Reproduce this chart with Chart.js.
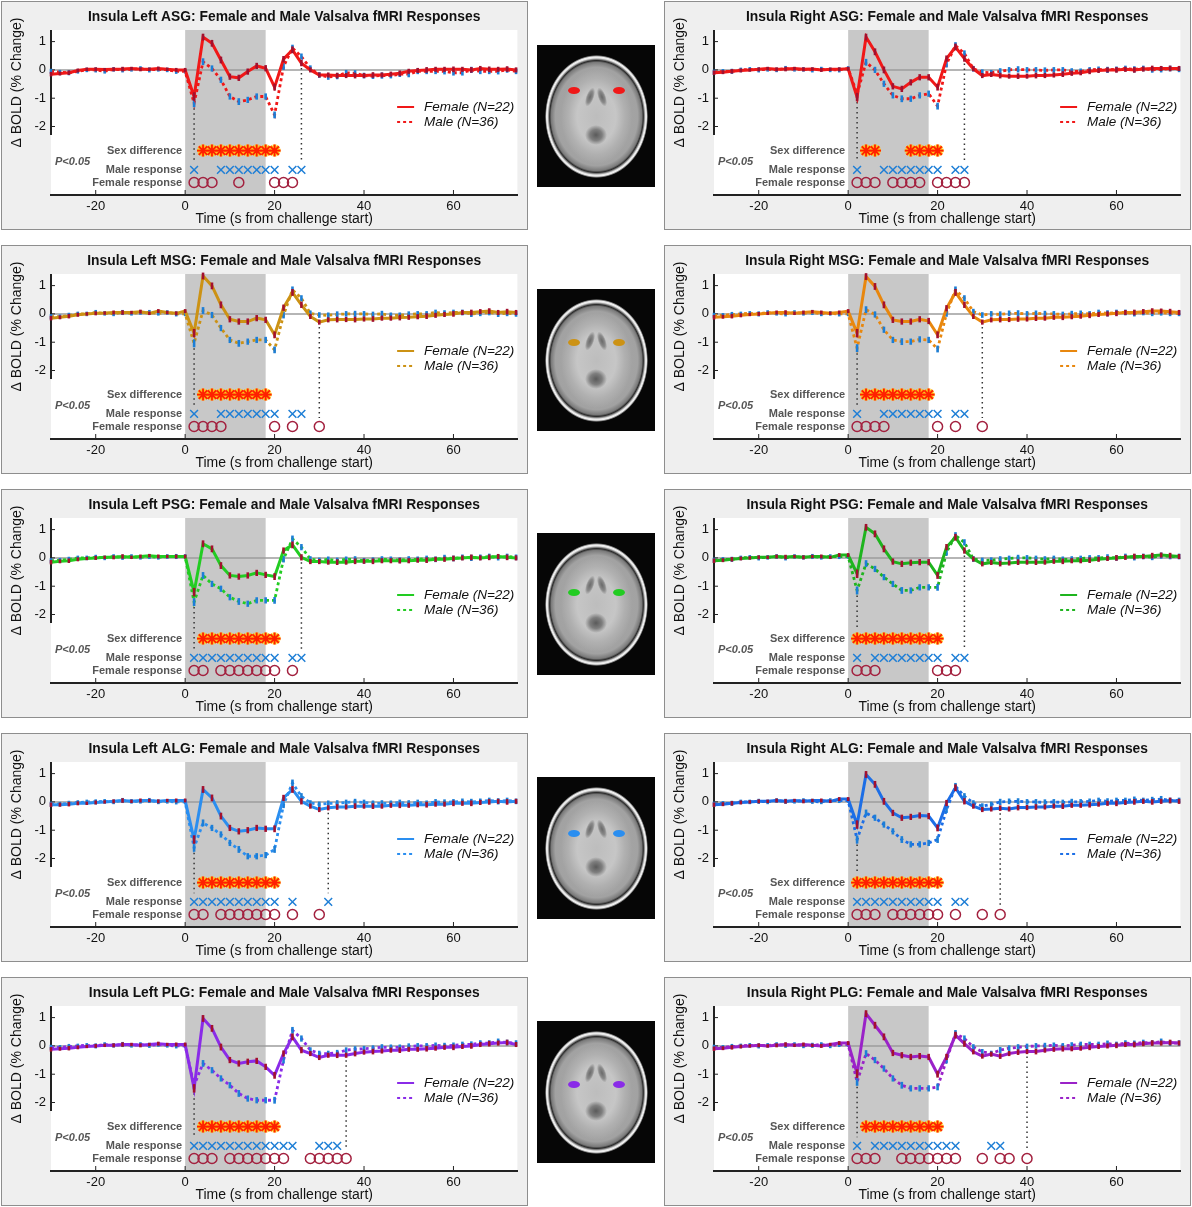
<!DOCTYPE html>
<html>
<head>
<meta charset="utf-8">
<script src="https://cdn.jsdelivr.net/npm/chart.js@4.4.0/dist/chart.umd.min.js"></script>
<style>
  body { margin: 0; width: 1192px; height: 1207px; background: #fff; position: relative; overflow: hidden; font-family: "Liberation Sans", Arial, sans-serif; }
  .panel { position: absolute; width: 527px; height: 229px; background: #efefef; border: 1px solid #8e8e8e; box-sizing: border-box; }
  .panel canvas { display: block; }
  .brain { position: absolute; left: 537px; width: 118px; height: 142px; background: #060606; overflow: hidden; }
  .brain div { position: absolute; border-radius: 50%; }
  .skull { left: 8px; top: 10px; width: 103px; height: 123px; background: radial-gradient(ellipse closest-side at 50% 50%, #a9a9a9 0%, #a2a2a2 80%, #7a7a7a 88%, #2a2a2a 91%, #e6e6e6 95%, #f2f2f2 97%, #101010 100%); }
  .wm { left: 24px; top: 24px; width: 71px; height: 95px; background: radial-gradient(ellipse closest-side at 50% 50%, #bdbdbd 0%, #c6c6c6 55%, #b0b0b0 80%, rgba(168,168,168,0) 100%); }
  .hornL { left: 49px; top: 42px; width: 8px; height: 20px; background: radial-gradient(ellipse closest-side, #6a6a6a 0%, #8a8a8a 60%, rgba(180,180,180,0) 100%); transform: rotate(20deg); }
  .hornR { left: 61px; top: 42px; width: 8px; height: 20px; background: radial-gradient(ellipse closest-side, #6a6a6a 0%, #8a8a8a 60%, rgba(180,180,180,0) 100%); transform: rotate(-20deg); }
  .mid { left: 48px; top: 80px; width: 22px; height: 20px; background: radial-gradient(ellipse closest-side, #5a5a5a 0%, #7e7e7e 55%, rgba(180,180,180,0) 100%); }
  .spot { width: 12px; height: 7px; }
</style>
</head>
<body>
<script>
// time axis (s from challenge start)
const times = [-30,-28,-26,-24,-22,-20,-18,-16,-14,-12,-10,-8,-6,-4,-2,0,2,4,6,8,10,12,14,16,18,20,22,24,26,28,30,32,34,36,38,40,42,44,46,48,50,52,54,56,58,60,62,64,66,68,70,72,74];
const xTicks = [-20, 0, 20, 40, 60];
const yTicks = [-2, -1, 0, 1];
const challenge = [0, 18];

// standard errors (shared)
const errF = [0.08,0.07,0.08,0.07,0.06,0.07,0.06,0.07,0.08,0.06,0.07,0.06,0.07,0.06,0.07, 0.07,0.15,0.12,0.12,0.12,0.11,0.11,0.11,0.11,0.11,0.12,0.11,0.12,0.11,0.09,0.09, 0.09,0.1,0.09,0.1,0.09,0.1,0.09,0.09,0.1,0.09,0.09,0.1,0.09,0.09,0.1,0.09,0.1,0.09,0.1,0.09,0.1,0.09];
const errM = [0.09,0.08,0.09,0.08,0.08,0.09,0.08,0.08,0.09,0.08,0.08,0.09,0.08,0.08,0.09, 0.08,0.14,0.12,0.11,0.11,0.11,0.12,0.11,0.11,0.11,0.12,0.12,0.12,0.11,0.1,0.1, 0.1,0.11,0.1,0.11,0.1,0.1,0.11,0.1,0.1,0.11,0.1,0.1,0.1,0.11,0.1,0.1,0.11,0.1,0.1,0.11,0.1,0.1];

// ASG
const lAsgF = [-0.15,-0.13,-0.1,-0.02,0.02,0.02,0.01,0.02,0.03,0.05,0.02,0.02,0.05,0.02,0.0, 0.0,-0.94,1.16,0.94,0.35,-0.24,-0.28,-0.06,0.14,0.06,-0.61,0.38,0.71,0.24,0.0,-0.18, -0.18,-0.2,-0.2,-0.2,-0.2,-0.18,-0.18,-0.15,-0.12,-0.05,-0.02,0.0,0.02,0.02,0.02,0.02,0.0,0.05,0.02,0.02,0.03,0.0];
const lAsgM = [-0.05,-0.08,-0.1,-0.05,0.0,0.0,-0.05,0.02,0.0,0.02,0.05,0.0,0.02,0.0,-0.05, -0.05,-1.18,0.29,0.05,-0.35,-0.94,-1.12,-1.06,-0.94,-0.94,-1.59,0.12,0.77,0.47,0.06,-0.18, -0.25,-0.22,-0.1,-0.12,-0.2,-0.22,-0.2,-0.2,-0.15,-0.15,-0.05,-0.05,-0.05,-0.05,-0.1,-0.1,0.0,-0.05,-0.05,-0.05,0.0,-0.05];
const rAsgF = [-0.1,-0.08,-0.05,-0.02,0.0,0.02,0.05,0.02,0.03,0.05,0.02,0.03,0.0,0.02,0.02, 0.04,-0.96,1.16,0.64,0.0,-0.58,-0.67,-0.44,-0.26,-0.26,-0.61,0.4,0.81,0.4,0.04,-0.2, -0.16,-0.2,-0.22,-0.22,-0.22,-0.2,-0.2,-0.18,-0.15,-0.12,-0.1,-0.05,-0.02,0.0,0.0,0.02,0.0,0.03,0.05,0.05,0.05,0.05];
const rAsgM = [-0.08,-0.05,-0.05,0.0,0.02,0.0,0.02,0.0,0.05,0.02,0.02,0.0,0.03,0.0,0.0, 0.05,-0.85,0.27,0.0,-0.49,-0.9,-1.02,-1.02,-0.9,-0.84,-1.28,0.21,0.86,0.58,0.04,-0.08, -0.1,-0.05,0.0,0.02,0.0,0.0,-0.02,0.0,0.0,-0.05,-0.05,0.0,0.02,0.0,0.02,0.05,0.02,0.05,0.0,0.02,0.05,0.02];
// MSG
const lMsgF = [-0.15,-0.12,-0.08,-0.03,0.0,0.02,0.03,0.05,0.05,0.05,0.08,0.02,0.1,0.05,0.02, 0.1,-0.68,1.34,0.99,0.32,-0.19,-0.27,-0.27,-0.15,-0.21,-0.74,0.22,0.76,0.32,-0.09,-0.29, -0.21,-0.2,-0.2,-0.2,-0.18,-0.18,-0.15,-0.15,-0.13,-0.12,-0.1,-0.08,-0.05,-0.02,0.0,0.05,0.05,0.08,0.1,0.05,0.08,0.05];
const lMsgM = [-0.1,-0.1,-0.05,0.0,0.0,0.05,0.02,0.0,0.05,0.02,0.05,0.05,0.02,0.05,0.0, 0.0,-1.04,0.12,-0.04,-0.5,-0.92,-1.04,-0.98,-0.92,-0.92,-1.27,-0.04,0.85,0.55,0.02,-0.04, -0.05,-0.02,0.0,0.0,0.0,-0.02,0.0,-0.05,-0.05,-0.02,0.0,0.0,0.05,0.02,0.05,0.05,0.0,0.02,0.05,0.0,0.02,0.0];
const rMsgF = [-0.12,-0.1,-0.08,-0.05,-0.02,0.0,0.02,0.05,0.05,0.02,0.05,0.08,0.05,0.02,0.05, 0.1,-0.68,1.32,0.97,0.32,-0.21,-0.27,-0.27,-0.19,-0.25,-0.74,0.2,0.76,0.32,-0.09,-0.29, -0.21,-0.2,-0.2,-0.18,-0.18,-0.15,-0.15,-0.12,-0.12,-0.1,-0.08,-0.05,-0.02,0.0,0.02,0.05,0.05,0.08,0.1,0.1,0.08,0.05];
const rMsgM = [-0.05,-0.05,-0.02,0.0,0.02,0.0,0.05,0.02,0.0,0.05,0.02,0.05,0.0,0.02,0.0, 0.0,-1.21,0.15,-0.02,-0.56,-0.92,-0.98,-0.98,-0.9,-0.92,-1.24,0.02,0.85,0.55,0.08,-0.04, 0.0,-0.02,0.02,0.02,0.0,0.02,0.0,0.0,-0.02,0.0,0.02,0.0,0.05,0.02,0.05,0.05,0.02,0.05,0.02,0.05,0.02,0.02];
// PSG
const lPsgF = [-0.15,-0.12,-0.1,-0.05,-0.02,0.0,0.02,0.02,0.05,0.02,0.05,0.08,0.05,0.05,0.05, 0.05,-1.21,0.5,0.32,-0.27,-0.62,-0.66,-0.62,-0.53,-0.6,-0.66,0.26,0.46,0.02,-0.13,-0.13, -0.15,-0.15,-0.15,-0.12,-0.12,-0.12,-0.1,-0.1,-0.1,-0.1,-0.08,-0.08,-0.05,-0.05,-0.02,0.0,0.02,0.0,0.02,0.05,0.02,0.0];
const lPsgM = [-0.1,-0.08,-0.05,0.0,0.0,0.02,0.0,0.05,0.02,0.05,0.02,0.05,0.02,0.05,0.05, 0.05,-1.56,-0.62,-0.92,-1.09,-1.39,-1.54,-1.62,-1.5,-1.5,-1.5,-0.04,0.67,0.38,-0.04,-0.09, -0.05,-0.1,-0.05,-0.05,-0.1,-0.08,-0.05,-0.05,-0.08,-0.05,-0.05,-0.02,-0.05,0.0,-0.02,0.02,0.0,0.02,0.05,0.02,0.05,0.02];
const rPsgF = [-0.1,-0.08,-0.05,-0.02,0.0,0.02,0.02,0.05,0.03,0.05,0.02,0.05,0.05,0.02,0.1, 0.1,-0.56,1.08,0.85,0.32,-0.13,-0.21,-0.17,-0.15,-0.15,-0.62,0.38,0.73,0.26,-0.04,-0.21, -0.16,-0.2,-0.18,-0.15,-0.15,-0.15,-0.15,-0.12,-0.12,-0.1,-0.1,-0.08,-0.05,-0.02,0.0,0.02,0.05,0.05,0.08,0.1,0.08,0.05];
const rPsgM = [-0.08,-0.05,-0.05,0.0,0.02,0.0,0.02,0.05,0.0,0.05,0.02,0.05,0.02,0.05,0.05, 0.05,-1.15,-0.2,-0.39,-0.68,-0.92,-1.15,-1.15,-1.04,-1.04,-1.04,0.2,0.79,0.55,-0.04,-0.09, -0.08,-0.05,-0.02,0.0,0.0,-0.02,-0.05,-0.02,-0.05,-0.05,-0.02,0.0,0.0,0.02,0.0,0.05,0.02,0.05,0.02,0.08,0.05,0.05];
// ALG
const lAlgF = [-0.1,-0.1,-0.08,-0.05,-0.05,-0.02,0.0,0.02,0.05,0.02,0.05,0.05,0.02,0.05,0.05, 0.05,-1.33,0.44,0.14,-0.5,-0.92,-1.04,-1.0,-0.92,-0.95,-0.95,0.14,0.44,0.02,-0.15,-0.27, -0.21,-0.18,-0.18,-0.15,-0.15,-0.15,-0.15,-0.12,-0.12,-0.12,-0.1,-0.1,-0.08,-0.08,-0.05,-0.05,-0.05,-0.02,0.0,0.02,0.0,0.02];
const lAlgM = [-0.08,-0.08,-0.05,-0.02,0.0,0.0,0.02,0.0,0.05,0.02,0.02,0.05,0.0,0.02,0.0, 0.0,-1.62,-0.74,-0.92,-1.15,-1.45,-1.68,-1.92,-1.92,-1.88,-1.68,-0.1,0.67,0.2,-0.04,-0.09, -0.05,-0.05,-0.02,0.0,-0.02,-0.05,-0.05,-0.05,-0.02,-0.05,-0.02,-0.05,0.0,-0.02,0.0,0.02,0.0,0.02,0.05,0.02,0.05,0.02];
const rAlgF = [-0.1,-0.08,-0.05,-0.02,0.0,0.02,0.02,0.05,0.02,0.05,0.02,0.05,0.05,0.02,0.1, 0.1,-0.8,0.97,0.62,0.02,-0.39,-0.56,-0.53,-0.48,-0.5,-0.92,-0.04,0.5,0.02,-0.15,-0.27, -0.25,-0.22,-0.25,-0.2,-0.2,-0.18,-0.18,-0.15,-0.15,-0.12,-0.12,-0.1,-0.08,-0.05,-0.05,-0.02,0.0,0.02,0.0,0.02,0.05,0.02];
const rAlgM = [-0.08,-0.05,-0.05,0.0,0.0,0.02,0.0,0.05,0.02,0.02,0.05,0.02,0.0,0.05,0.05, 0.05,-1.33,-0.39,-0.56,-0.8,-1.04,-1.33,-1.5,-1.5,-1.45,-1.33,-0.27,0.55,0.2,-0.04,-0.15, -0.09,0.0,0.02,0.02,0.0,0.0,-0.02,0.0,-0.02,0.0,0.0,0.02,0.05,0.02,0.05,0.05,0.08,0.05,0.08,0.1,0.05,0.05];
// PLG
const lPlgF = [-0.12,-0.1,-0.08,-0.05,-0.02,0.0,0.02,0.02,0.05,0.05,0.02,0.05,0.08,0.05,0.05, 0.05,-1.5,0.97,0.62,-0.04,-0.5,-0.62,-0.56,-0.53,-0.74,-1.04,-0.27,0.32,-0.15,-0.27,-0.41, -0.33,-0.33,-0.33,-0.27,-0.22,-0.2,-0.18,-0.15,-0.15,-0.12,-0.12,-0.1,-0.08,-0.05,-0.05,-0.02,0.0,0.05,0.08,0.1,0.12,0.05];
const lPlgM = [-0.05,-0.05,-0.02,0.0,0.02,0.0,0.05,0.02,0.05,0.02,0.05,0.02,0.05,0.02,0.0, 0.0,-1.39,-0.62,-0.86,-1.15,-1.39,-1.68,-1.86,-1.92,-1.92,-1.92,-0.5,0.55,0.26,-0.15,-0.27, -0.27,-0.25,-0.15,-0.12,-0.1,-0.08,-0.05,-0.05,-0.05,-0.02,0.0,0.0,0.02,0.0,0.02,0.05,0.05,0.1,0.1,0.15,0.12,0.1];
const rPlgF = [-0.1,-0.08,-0.05,-0.02,0.0,0.02,0.0,0.02,0.05,0.02,0.05,0.02,0.0,0.05,0.1, 0.1,-0.98,1.14,0.73,0.32,-0.25,-0.33,-0.39,-0.36,-0.39,-1.0,-0.39,0.38,0.08,-0.21,-0.36, -0.29,-0.36,-0.27,-0.22,-0.2,-0.2,-0.15,-0.12,-0.1,-0.1,-0.08,-0.05,-0.02,0.0,0.02,0.05,0.05,0.08,0.1,0.1,0.12,0.1];
const rPlgM = [-0.05,-0.05,-0.02,0.0,0.02,0.0,0.02,0.05,0.02,0.05,0.0,0.02,0.05,0.0,0.05, 0.05,-1.27,-0.27,-0.5,-0.8,-1.15,-1.39,-1.5,-1.5,-1.5,-1.45,-0.5,0.44,0.26,-0.04,-0.21, -0.27,-0.15,-0.08,-0.05,-0.02,0.0,0.0,0.02,0.0,0.02,0.05,0.05,0.05,0.08,0.05,0.1,0.08,0.12,0.1,0.15,0.1,0.1];

// significance markers (time points, P<0.05)
const lAsgSex = [4,6,8,10,12,14,16,18,20], lAsgMale = [2,8,10,12,14,16,18,20,24,26], lAsgFem = [2,4,6,12,20,22,24], lAsgVl = [2,26];
const rAsgSex = [4,6,14,16,18,20], rAsgMale = [2,8,10,12,14,16,18,20,24,26], rAsgFem = [2,4,6,10,12,14,16,20,22,24,26], rAsgVl = [2,26];
const lMsgSex = [4,6,8,10,12,14,16,18], lMsgMale = [2,8,10,12,14,16,18,20,24,26], lMsgFem = [2,4,6,8,20,24,30], lMsgVl = [2,30];
const rMsgSex = [4,6,8,10,12,14,16,18], rMsgMale = [2,8,10,12,14,16,18,20,24,26], rMsgFem = [2,4,6,8,20,24,30], rMsgVl = [2,30];
const lPsgSex = [4,6,8,10,12,14,16,18,20], lPsgMale = [2,4,6,8,10,12,14,16,18,20,24,26], lPsgFem = [2,4,8,10,12,14,16,18,20,24], lPsgVl = [2,26];
const rPsgSex = [2,4,6,8,10,12,14,16,18,20], rPsgMale = [2,6,8,10,12,14,16,18,20,24,26], rPsgFem = [2,4,6,20,22,24], rPsgVl = [2,26];
const lAlgSex = [4,6,8,10,12,14,16,18,20], lAlgMale = [2,4,6,8,10,12,14,16,18,20,24,32], lAlgFem = [2,4,8,10,12,14,16,18,20,24,30], lAlgVl = [2,32];
const rAlgSex = [2,4,6,8,10,12,14,16,18,20], rAlgMale = [2,4,6,8,10,12,14,16,18,20,24,26], rAlgFem = [2,4,6,10,12,14,16,18,20,24,30,34], rAlgVl = [2,34];
const lPlgSex = [4,6,8,10,12,14,16,18,20], lPlgMale = [2,4,6,8,10,12,14,16,18,20,22,24,30,32,34], lPlgFem = [2,4,6,10,12,14,16,18,20,22,28,30,32,34,36], lPlgVl = [2,36];
const rPlgSex = [4,6,8,10,12,14,16,18,20], rPlgMale = [2,6,8,10,12,14,16,18,20,22,24,32,34], rPlgFem = [2,4,6,12,14,16,18,20,22,24,30,34,36,40], rPlgVl = [2,40];

const rowNames = ['Sex difference', 'Male response', 'Female response'];
const rowLevels = [-2.85, -3.53, -3.98];

const panels = [
  { side: 'Left',  region: 'ASG', color: '#f01818', f: lAsgF, m: lAsgM, sex: lAsgSex, male: lAsgMale, fem: lAsgFem, vl: lAsgVl },
  { side: 'Right', region: 'ASG', color: '#f01818', f: rAsgF, m: rAsgM, sex: rAsgSex, male: rAsgMale, fem: rAsgFem, vl: rAsgVl },
  { side: 'Left',  region: 'MSG', color: '#cc9214', f: lMsgF, m: lMsgM, sex: lMsgSex, male: lMsgMale, fem: lMsgFem, vl: lMsgVl },
  { side: 'Right', region: 'MSG', color: '#e8870e', f: rMsgF, m: rMsgM, sex: rMsgSex, male: rMsgMale, fem: rMsgFem, vl: rMsgVl },
  { side: 'Left',  region: 'PSG', color: '#22cc22', f: lPsgF, m: lPsgM, sex: lPsgSex, male: lPsgMale, fem: lPsgFem, vl: lPsgVl },
  { side: 'Right', region: 'PSG', color: '#1eb41e', f: rPsgF, m: rPsgM, sex: rPsgSex, male: rPsgMale, fem: rPsgFem, vl: rPsgVl },
  { side: 'Left',  region: 'ALG', color: '#2a8ef0', f: lAlgF, m: lAlgM, sex: lAlgSex, male: lAlgMale, fem: lAlgFem, vl: lAlgVl },
  { side: 'Right', region: 'ALG', color: '#1c6ee6', f: rAlgF, m: rAlgM, sex: rAlgSex, male: rAlgMale, fem: rAlgFem, vl: rAlgVl },
  { side: 'Left',  region: 'PLG', color: '#8a2be8', f: lPlgF, m: lPlgM, sex: lPlgSex, male: lPlgMale, fem: lPlgFem, vl: lPlgVl },
  { side: 'Right', region: 'PLG', color: '#9a22c8', f: rPlgF, m: rPlgM, sex: rPlgSex, male: rPlgMale, fem: rPlgFem, vl: rPlgVl }
];

const FONT = '"Liberation Sans", Arial, sans-serif';
const yAxisEnd = -2.3;

const panelDecor = {
  id: 'panelDecor',
  beforeDraw(chart) {
    const { ctx, chartArea: a } = chart;
    ctx.save();
    ctx.fillStyle = '#ffffff';
    ctx.fillRect(a.left, a.top, a.right - a.left, a.bottom - a.top);
    ctx.restore();
  },
  beforeDatasetsDraw(chart) {
    const { ctx, chartArea: a, scales: { x, y } } = chart;
    ctx.save();
    const x0 = x.getPixelForValue(challenge[0]), x1 = x.getPixelForValue(challenge[1]);
    ctx.fillStyle = '#c8c8c8';
    ctx.fillRect(x0, a.top, x1 - x0, a.bottom - a.top - 1);
    const y0 = y.getPixelForValue(0);
    ctx.strokeStyle = '#9c9c9c';
    ctx.lineWidth = 1.5;
    ctx.beginPath(); ctx.moveTo(a.left, y0); ctx.lineTo(a.right, y0); ctx.stroke();
    ctx.strokeStyle = '#222';
    ctx.lineWidth = 2;
    ctx.beginPath(); ctx.moveTo(a.left, a.top); ctx.lineTo(a.left, y.getPixelForValue(yAxisEnd)); ctx.stroke();
    ctx.lineWidth = 1;
    yTicks.forEach(v => {
      const p = y.getPixelForValue(v);
      ctx.beginPath(); ctx.moveTo(a.left, p); ctx.lineTo(a.left + 4, p); ctx.stroke();
    });
    xTicks.forEach(v => {
      const p = x.getPixelForValue(v);
      ctx.beginPath(); ctx.moveTo(p, a.bottom); ctx.lineTo(p, a.bottom - 5); ctx.stroke();
    });
    ctx.restore();
  },
  afterDatasetDraw(chart, args) {
    const ds = chart.data.datasets[args.index];
    if (!ds.err) return;
    const { ctx, scales: { x, y } } = chart;
    ctx.save();
    ctx.strokeStyle = ds.errColor;
    ctx.lineWidth = 2.6;
    ds.data.forEach((pt, i) => {
      const px = x.getPixelForValue(pt.x);
      ctx.beginPath();
      ctx.moveTo(px, y.getPixelForValue(pt.y - ds.err[i]));
      ctx.lineTo(px, y.getPixelForValue(pt.y + ds.err[i]));
      ctx.stroke();
    });
    ctx.restore();
  },
  afterDraw(chart) {
    const { ctx, chartArea: a, scales: { x, y } } = chart;
    const o = chart.options.plugins.panelDecor;
    ctx.save();
    ctx.fillStyle = '#111';
    ctx.textBaseline = 'middle';
    // title
    ctx.font = 'bold 13.85px ' + FONT;
    ctx.textAlign = 'center';
    ctx.fillText(o.title, (a.left + a.right) / 2, 15);
    // y title
    ctx.font = '14px ' + FONT;
    ctx.translate(15, (a.top + y.getPixelForValue(yAxisEnd)) / 2);
    ctx.rotate(-Math.PI / 2);
    ctx.fillText('\u0394 BOLD (% Change)', 0, 0);
    ctx.setTransform(chart.currentDevicePixelRatio, 0, 0, chart.currentDevicePixelRatio, 0, 0);
    // marker row labels
    ctx.font = 'bold 11px ' + FONT;
    ctx.fillStyle = '#555';
    ctx.textAlign = 'right';
    rowNames.forEach((n, i) => ctx.fillText(n, x.getPixelForValue(0) - 3, y.getPixelForValue(rowLevels[i])));
    ctx.textAlign = 'left';
    ctx.font = 'italic bold 11px ' + FONT;
    ctx.fillText('P<0.05', a.left + 4, y.getPixelForValue(-3.25));
    // legend
    ctx.font = 'italic 13.5px ' + FONT;
    const leg = chart.data.datasets.filter(d => d.inLegend);
    leg.forEach((d, i) => {
      const ly = y.getPixelForValue(-1.31 - 0.53 * i);
      ctx.strokeStyle = d.borderColor;
      ctx.lineWidth = 2;
      ctx.setLineDash(d.borderDash || []);
      ctx.beginPath();
      ctx.moveTo(x.getPixelForValue(47.4), ly);
      ctx.lineTo(x.getPixelForValue(51.2), ly);
      ctx.stroke();
      ctx.setLineDash([]);
      ctx.fillStyle = '#111';
      ctx.fillText(d.label, x.getPixelForValue(53.4), ly);
    });
    ctx.restore();
  }
};

function rowFor(p, t) {
  if (p.sex.includes(t)) return rowLevels[0];
  if (p.male.includes(t)) return rowLevels[1];
  return rowLevels[2];
}

function buildPanel(p, i) {
  const col = i % 2, row = Math.floor(i / 2);
  const div = document.createElement('div');
  div.className = 'panel';
  div.style.left = (col === 0 ? 1 : 664) + 'px';
  div.style.top = (1 + 244 * row) + 'px';
  const canvas = document.createElement('canvas');
  canvas.width = 525; canvas.height = 227;
  canvas.style.width = '525px'; canvas.style.height = '227px';
  div.appendChild(canvas);
  document.body.appendChild(div);

  const toPts = vals => times.map((t, k) => ({ x: t, y: vals[k] }));
  const vlines = p.vl.map(t => {
    const k = times.indexOf(t);
    return {
      type: 'line',
      data: [{ x: t, y: Math.min(p.f[k], p.m[k]) }, { x: t, y: rowFor(p, t) + 0.3 }],
      borderColor: '#333', borderWidth: 1.5, borderDash: [1.5, 3.5], pointRadius: 0, order: 5
    };
  });

  const datasets = [
    { label: 'Female (N=22)', inLegend: true, data: toPts(p.f), err: errF, errColor: '#a3102e',
      borderColor: p.color, borderWidth: 3, pointRadius: 0, order: 1 },
    { label: 'Male (N=36)', inLegend: true, data: toPts(p.m), err: errM, errColor: '#1c7ed6',
      borderColor: p.color, borderWidth: 2.8, borderDash: [3, 3], pointRadius: 0, order: 2 },
    ...vlines,
    { data: p.sex.map(t => ({ x: t, y: rowLevels[0] })), showLine: false, pointStyle: 'star',
      pointRadius: 6, borderColor: '#ffbe1a', borderWidth: 3.6, order: 4 },
    { data: p.sex.map(t => ({ x: t, y: rowLevels[0] })), showLine: false, pointStyle: 'star',
      pointRadius: 6, borderColor: '#ff2000', borderWidth: 1.8, order: 3 },
    { data: p.male.map(t => ({ x: t, y: rowLevels[1] })), showLine: false, pointStyle: 'crossRot',
      pointRadius: 5.5, borderColor: '#1f7fd6', borderWidth: 1.5, order: 3 },
    { data: p.fem.map(t => ({ x: t, y: rowLevels[2] })), showLine: false, pointStyle: 'circle',
      pointRadius: 5, backgroundColor: 'rgba(0,0,0,0)', borderColor: '#a3213f', borderWidth: 1.5, order: 3 }
  ];

  new Chart(canvas, {
    type: 'line',
    data: { datasets },
    plugins: [panelDecor],
    options: {
      responsive: false,
      animation: false,
      layout: { padding: { top: 28, right: 7, left: 0, bottom: 0 } },
      plugins: {
        legend: { display: false },
        tooltip: { enabled: false },
        panelDecor: { title: 'Insula ' + p.side + ' ' + p.region + ': Female and Male Valsalva fMRI Responses' }
      },
      scales: {
        x: {
          type: 'linear', min: -30, max: 74.3,
          afterBuildTicks: s => { s.ticks = xTicks.map(v => ({ value: v })); },
          afterFit: s => { s.height = 34; },
          grid: { display: false, drawTicks: false, tickLength: 0 },
          border: { display: true, color: '#222', width: 2 },
          ticks: { font: { family: FONT, size: 13 }, color: '#111', padding: 4, maxRotation: 0 },
          title: { display: true, text: 'Time (s from challenge start)', font: { family: FONT, size: 14 }, color: '#111', padding: { top: 0, bottom: 1 } }
        },
        y: {
          type: 'linear', min: -4.42, max: 1.41,
          afterBuildTicks: s => { s.ticks = yTicks.map(v => ({ value: v })); },
          afterFit: s => { s.width = 49; },
          grid: { display: false, drawTicks: false, tickLength: 0 },
          border: { display: false },
          ticks: { font: { family: FONT, size: 13 }, color: '#111', padding: 5 }
        }
      }
    }
  });
}

function buildBrain(p, row) {
  const b = document.createElement('div');
  b.className = 'brain';
  b.style.top = (45 + 244 * row) + 'px';
  b.innerHTML = '<div class="skull"></div><div class="wm"></div><div class="hornL"></div><div class="hornR"></div><div class="mid"></div>';
  const spotTop = [42, 50, 56, 53, 60][row];
  [31, 76].forEach(left => {
    const s = document.createElement('div');
    s.className = 'spot';
    s.style.left = left + 'px';
    s.style.top = spotTop + 'px';
    s.style.background = p.color;
    b.appendChild(s);
  });
  document.body.appendChild(b);
}

panels.forEach(buildPanel);
[0, 2, 4, 6, 8].forEach((k, row) => buildBrain(panels[k], row));
</script>
</body>
</html>
